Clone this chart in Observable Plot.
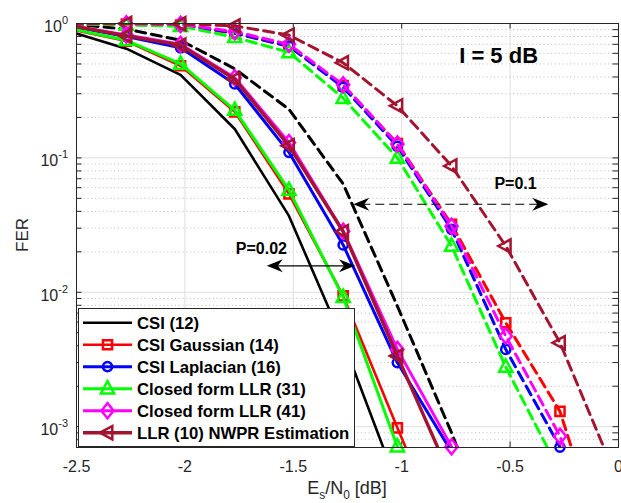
<!DOCTYPE html>
<html><head><meta charset="utf-8">
<script src="https://cdn.jsdelivr.net/npm/d3@7"></script>
<script src="https://cdn.jsdelivr.net/npm/@observablehq/plot@0.6"></script>
<style>
html,body{margin:0;padding:0;background:#fff;}
#chart svg{display:block;}
</style></head><body><div id="chart"></div>
<script>
const FONT = "'Liberation Sans', Arial, Helvetica, sans-serif";

// ---- data ----
const xVals = [-2.52, -2.27, -2.02, -1.77, -1.52, -1.27, -1.02, -0.77, -0.52, -0.27, -0.02];
const seriesNames = ["CSI (12)", "CSI Gaussian (14)", "CSI Laplacian (16)", "Closed form LLR (31)", "Closed form LLR (41)", "LLR (10) NWPR Estimation"];

// solid curves
const fer_CSI12   = [0.86, 0.65, 0.415, 0.164, 0.037, 0.0043, 0.00037];
const fer_Gauss14 = [0.90, 0.74, 0.485, 0.22, 0.054, 0.0094, 0.00098, 0.00011];
const fer_Lap16   = [0.95, 0.80, 0.66, 0.355, 0.110, 0.0225, 0.0030, 0.00065];
const fer_CF31    = [0.91, 0.75, 0.50, 0.227, 0.0575, 0.0092, 0.00071, 0.00007];
const fer_CF41    = [0.96, 0.82, 0.70, 0.395, 0.130, 0.0285, 0.00376, 0.00071];
const fer_NWPR10  = [0.96, 0.81, 0.69, 0.385, 0.123, 0.0283, 0.00336, 0.00041];

// dashed curves
const ferD_CSI12   = [0.99, 0.91, 0.75, 0.46, 0.23, 0.064, 0.0079, 0.0009, 0.00008];
const ferD_Gauss14 = [0.995, 0.99, 0.975, 0.845, 0.675, 0.345, 0.128, 0.032, 0.00594, 0.0013, 0.00007];
const ferD_Lap16   = [0.995, 0.99, 0.98, 0.85, 0.68, 0.335, 0.122, 0.0294, 0.00376, 0.000705, 0.00006];
const ferD_CF31    = [0.99, 0.975, 0.955, 0.79, 0.61, 0.278, 0.100, 0.0221, 0.00278, 0.00046, 0.00004];
const ferD_CF41    = [0.998, 0.995, 0.985, 0.87, 0.70, 0.35, 0.127, 0.031, 0.00473, 0.00085, 0.00006];
const ferD_NWPR10  = [1.0, 1.0, 0.995, 0.96, 0.82, 0.51, 0.244, 0.087, 0.0221, 0.00421, 0.00046];

// axes
const xTicks = [-2.5, -2, -1.5, -1, -0.5, 0];
const xTickLabels = ["-2.5", "-2", "-1.5", "-1", "-0.5", "0"];
const yDecades = [1, 0.1, 0.01, 0.001];
const yExponents = ["0", "-1", "-2", "-3"];
const yMinor = [0.0008, 0.0009,
  0.002, 0.003, 0.004, 0.005, 0.006, 0.007, 0.008, 0.009,
  0.02, 0.03, 0.04, 0.05, 0.06, 0.07, 0.08, 0.09,
  0.2, 0.3, 0.4, 0.5, 0.6, 0.7, 0.8, 0.9];

// annotations
const titleText = "I = 5 dB";
const titlePos = {x: -0.553, y: 0.575};
const p01Label = {text: "P=0.1", x: -0.475, y: 0.0638};
const p002Label = {text: "P=0.02", x: -1.647, y: 0.0211};
const p01Arrow = {x1: -1.221, x2: -0.3215, y: 0.0448};
const p002Arrow = {x1: -1.62, x2: -1.213, y: 0.0156};

// ---- styles ----
const colors = ["#000000", "#ff0000", "#0000ff", "#00ff00", "#ff00ff", "#a2142f"];
const symSquare = {draw(c, size){const r=Math.sqrt(size/Math.PI), s=r*0.95; c.moveTo(-s,-s); c.lineTo(s,-s); c.lineTo(s,s); c.lineTo(-s,s); c.closePath();}};
const symDiamond = {draw(c, size){const r=Math.sqrt(size/Math.PI); c.moveTo(0,-1.3*r); c.lineTo(1.05*r,0); c.lineTo(0,1.3*r); c.lineTo(-1.05*r,0); c.closePath();}};
const symTriUp = {draw(c, size){const r=Math.sqrt(size/Math.PI); c.moveTo(0,-1.25*r); c.lineTo(1.1*r,0.8*r); c.lineTo(-1.1*r,0.8*r); c.closePath();}};
const symTriLeft = {draw(c, size){const r=Math.sqrt(size/Math.PI); c.moveTo(-1.25*r,0); c.lineTo(0.8*r,-1.1*r); c.lineTo(0.8*r,1.1*r); c.closePath();}};
const symbols = [null, symSquare, "circle", symTriUp, symDiamond, symTriLeft];
const symbolR = [0, 4.8, 4.6, 6, 5.8, 6];
const solidWidths = [2.6, 2.6, 3, 3, 3, 3.4];
const dashedWidths = [3, 3, 3, 3, 3, 3];

const solidData = [fer_CSI12, fer_Gauss14, fer_Lap16, fer_CF31, fer_CF41, fer_NWPR10];
const dashedData = [ferD_CSI12, ferD_Gauss14, ferD_Lap16, ferD_CF31, ferD_CF41, ferD_NWPR10];

const Y_MIN = 7e-4, Y_MAX = 1, X_MIN = -2.5, X_MAX = 0;
const W = 621, H = 503, ML = 76, MR = 3, MT = 23, MB = 56;
const tickLenX = (X_MAX - X_MIN) / (W - ML - MR) * 5.5;
const tickFacY = Math.pow(Y_MAX / Y_MIN, 5.5 / (H - MT - MB));

function rows(vals){ return vals.map((v, j) => ({x: xVals[j], y: v})); }
function seriesMarks(vals, i, dashed){
  const data = rows(vals);
  const m = [Plot.line(data, {x: "x", y: "y", stroke: colors[i], strokeWidth: dashed ? dashedWidths[i] : solidWidths[i],
    strokeDasharray: dashed ? "10,6" : null, clip: true})];
  if (symbols[i]) {
    const inside = data.filter(d => d.x >= X_MIN && d.y >= Y_MIN && d.y <= Y_MAX);
    m.push(Plot.dot(inside, {x: "x", y: "y", symbol: symbols[i], r: symbolR[i], stroke: colors[i], fill: "none", strokeWidth: 2.5}));
  }
  return m;
}

const marks = [
  Plot.ruleY(yMinor, {stroke: "#c4c4c4", strokeDasharray: "1.2,2.6", strokeWidth: 1}),
  Plot.ruleY(yDecades.slice(1), {stroke: "#dedede", strokeWidth: 1}),
  Plot.ruleX(xTicks.slice(1, -1), {stroke: "#dedede", strokeWidth: 1}),
  // inward ticks
  Plot.ruleY(yDecades.concat(yMinor), {x1: X_MIN, x2: X_MIN + tickLenX, stroke: "#262626", strokeWidth: 1}),
  Plot.ruleY(yDecades.concat(yMinor), {x1: X_MAX - tickLenX, x2: X_MAX, stroke: "#262626", strokeWidth: 1}),
  Plot.ruleX(xTicks, {y1: Y_MIN, y2: Y_MIN * tickFacY, stroke: "#262626", strokeWidth: 1}),
  Plot.ruleX(xTicks, {y1: Y_MAX / tickFacY, y2: Y_MAX, stroke: "#262626", strokeWidth: 1}),
];
for (let i = 0; i < 6; i++) marks.push(...seriesMarks(dashedData[i], i, true));
for (let i = 0; i < 6; i++) marks.push(...seriesMarks(solidData[i], i, false));
marks.push(
  Plot.frame({stroke: "#262626", strokeWidth: 1}),
  Plot.text([titlePos], {x: "x", y: "y", text: () => titleText, fontSize: 22, fontWeight: "bold", fill: "#000"}),
  Plot.text([p01Label], {x: "x", y: "y", text: "text", fontSize: 16, fontWeight: "bold", fill: "#000"}),
  Plot.text([p002Label], {x: "x", y: "y", text: "text", fontSize: 16, fontWeight: "bold", fill: "#000"}),
  Plot.axisX({ticks: xTicks, tickFormat: (d) => xTickLabels[xTicks.indexOf(d)], tickSize: 0, tickPadding: 13, fill: "#262626", fontSize: 16, label: null})
);

const plot = Plot.plot({
  width: W, height: H,
  marginLeft: ML, marginRight: MR, marginTop: MT, marginBottom: MB,
  style: {fontFamily: FONT, fontSize: "16px", color: "#262626", background: "#fff", overflow: "visible"},
  x: {domain: [X_MIN, X_MAX]},
  y: {type: "log", domain: [Y_MIN, Y_MAX], axis: null},
  marks
});
document.getElementById("chart").appendChild(plot);

// ---- post-render decorations using Plot's scales ----
const sx = plot.scale("x"), sy = plot.scale("y");
const svg = d3.select(plot);

// y tick labels 10^k
const yl = svg.append("g").attr("font-family", FONT).attr("fill", "#262626").attr("font-size", 16).attr("text-anchor", "end");
yDecades.forEach((v, k) => {
  const t = yl.append("text").attr("x", ML - 8).attr("y", sy.apply(v) + 9).attr("text-anchor", "end");
  t.append("tspan").text("10");
  t.append("tspan").attr("dy", -8).attr("font-size", 11).text(yExponents[k]);
});

// axis labels
svg.append("text").attr("transform", `translate(${22},${235}) rotate(-90)`)
  .attr("text-anchor", "middle").attr("dominant-baseline", "central")
  .attr("font-family", FONT).attr("font-size", 17).attr("fill", "#262626").text("FER");
const xl = svg.append("text").attr("x", ML + (W - ML - MR) / 2).attr("y", 494)
  .attr("text-anchor", "middle").attr("font-family", FONT).attr("font-size", 18).attr("fill", "#262626");
xl.append("tspan").text("E");
xl.append("tspan").attr("font-size", 12).attr("dy", 5).text("s");
xl.append("tspan").attr("dy", -5).text("/N");
xl.append("tspan").attr("font-size", 12).attr("dy", 5).text("0");
xl.append("tspan").attr("dy", -5).text(" [dB]");

// double arrows
function arrowHead(g, tx, ty, dir){
  const L = 16, w = 6.5, n = 11;
  const p = [[tx, ty], [tx - dir*L, ty - w], [tx - dir*n, ty], [tx - dir*L, ty + w]];
  g.append("path").attr("d", "M" + p.map(q => q.join(",")).join("L") + "Z").attr("fill", "#000");
}
function doubleArrow(a, dashed){
  const g = svg.append("g");
  const x1 = sx.apply(a.x1), x2 = sx.apply(a.x2), y = sy.apply(a.y);
  g.append("line").attr("x1", x1 + 8).attr("x2", x2 - 8).attr("y1", y).attr("y2", y)
    .attr("stroke", "#000").attr("stroke-width", 1.1).attr("stroke-dasharray", dashed ? "9,5" : null);
  arrowHead(g, x1, y, -1);
  arrowHead(g, x2, y, 1);
}
doubleArrow(p01Arrow, true);
doubleArrow(p002Arrow, false);

// legend
const lg = svg.append("g").attr("font-family", FONT).attr("text-anchor", "start");
lg.append("rect").attr("x", 78.5).attr("y", 308.5).attr("width", 276).attr("height", 138)
  .attr("fill", "#fff").attr("stroke", "#262626").attr("stroke-width", 1);
seriesNames.forEach((name, i) => {
  const cy = 322.7 + i * 22;
  lg.append("line").attr("x1", 83).attr("x2", 132).attr("y1", cy).attr("y2", cy)
    .attr("stroke", colors[i]).attr("stroke-width", solidWidths[i]);
  if (symbols[i]) {
    const type = symbols[i] === "circle" ? d3.symbolCircle : symbols[i];
    lg.append("path").attr("transform", `translate(107.5,${cy})`)
      .attr("d", d3.symbol().type(type).size(Math.PI * symbolR[i] * symbolR[i])())
      .attr("fill", "none").attr("stroke", colors[i]).attr("stroke-width", 2.5);
  }
  lg.append("text").attr("x", 137).attr("y", cy).attr("dy", "0.36em").attr("text-anchor", "start")
    .attr("font-size", 16.7).attr("font-weight", "bold").attr("fill", "#000").text(name);
});
</script>
</body></html>
